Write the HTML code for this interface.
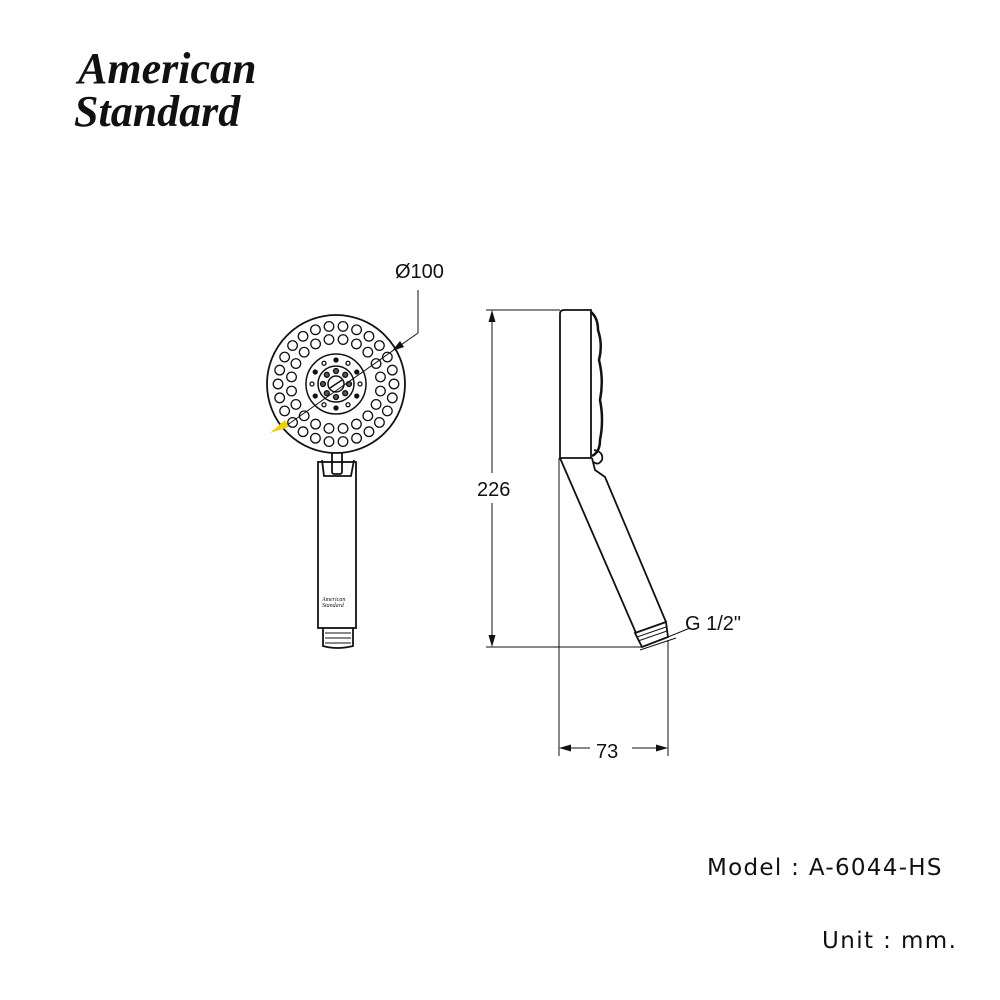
<!DOCTYPE html>
<html><head><meta charset="utf-8"><style>
html,body{margin:0;padding:0;background:#fff;}
svg{display:block}
text{font-family:"Liberation Sans",sans-serif;fill:#111}
</style></head><body>
<svg id="s" width="1000" height="1000" viewBox="0 0 1000 1000" xmlns="http://www.w3.org/2000/svg">
<text x="78" y="83" style="font-family:'Liberation Serif',serif;font-style:italic;font-weight:bold;font-size:44px;letter-spacing:0px">American</text>
<text x="74" y="126" style="font-family:'Liberation Serif',serif;font-style:italic;font-weight:bold;font-size:44px;letter-spacing:0px">Standard</text>

<g fill="none" stroke="#111" stroke-width="1.8">
<rect x="318" y="462" width="38" height="166"/>
<path d="M322 460 L324 476 L351 476 L354 460"/>
<rect x="332" y="452" width="10" height="22" rx="2"/>
<path d="M323 628 L323 646 Q337 650 353 646 L353 628"/>
<line x1="325" y1="633" x2="351" y2="633" stroke-width="1"/>
<line x1="325" y1="638" x2="351" y2="638" stroke-width="1"/>
<line x1="325" y1="643" x2="351" y2="643" stroke-width="1"/>
<circle cx="336" cy="384" r="69" fill="#fff"/>
<circle cx="336" cy="384" r="30" stroke-width="1.5"/>
<circle cx="336" cy="384" r="18" stroke-width="1.5"/>
<circle cx="336" cy="384" r="8" stroke-width="1.5"/>
<line x1="330" y1="388" x2="342" y2="380" stroke-width="1.5"/>
<g id="holes" stroke-width="1.3"></g>
<path d="M560 458 L560 314 Q560 310 564 310 L591 310 L591 458 Z"/>
<path d="M591 312 Q598 318 598 330 Q603 345 599 360 Q604 380 600 400 Q604 420 600 440 Q600 452 592 456" stroke-width="2.5"/>
<path d="M594 450 Q604 452 602 460 Q598 466 594 462"/>
<path d="M560 458 L636 633"/>
<path d="M592 458 L595 470 L605 477 L666 622"/>
<path d="M635 633 L666 622 L668 637 L642 647 Z"/>
<line x1="637" y1="637" x2="666" y2="627" stroke-width="1"/>
<line x1="638" y1="641" x2="667" y2="631" stroke-width="1"/>
</g>
<g stroke="#111" stroke-width="1" fill="none">
<line x1="486" y1="310" x2="560" y2="310"/>
<line x1="486" y1="647" x2="642" y2="647"/>
<line x1="492" y1="312" x2="492" y2="473"/>
<line x1="492" y1="503" x2="492" y2="645"/>
<line x1="559" y1="458" x2="559" y2="756"/>
<line x1="668" y1="640" x2="668" y2="756"/>
<line x1="561" y1="748" x2="590" y2="748"/>
<line x1="632" y1="748" x2="666" y2="748"/>
<line x1="418" y1="290" x2="418" y2="333"/>
<line x1="418" y1="333" x2="283" y2="428"/>
<line x1="640" y1="650" x2="676" y2="638"/>
<line x1="668" y1="637" x2="690" y2="628"/>
</g>
<g fill="#111">
<path d="M492 310 L488.5 322 L495.5 322 Z"/>
<path d="M492 647 L488.5 635 L495.5 635 Z"/>
<path d="M559 748 L571 744.5 L571 751.5 Z"/>
<path d="M668 748 L656 744.5 L656 751.5 Z"/>
<path d="M392 351 L400 341 L404 347 Z"/>
</g>
<path d="M270 433 L285 420 L289 427 Z" fill="#f0d000"/>
<text x="395" y="278" font-size="20">Ø100</text>
<text x="477" y="496" font-size="20">226</text>
<text x="596" y="758" font-size="20">73</text>
<text x="685" y="630" font-size="20">G 1/2"</text>
<text x="322" y="601" style="font-family:'Liberation Serif',serif;font-style:italic;font-size:6px">American</text>
<text x="322" y="607" style="font-family:'Liberation Serif',serif;font-style:italic;font-size:6px">Standard</text>
<text x="707" y="875" style="font-family:'DejaVu Sans',sans-serif;font-size:23px;letter-spacing:1.3px">Model : A-6044-HS</text>
<text x="822" y="948" style="font-family:'DejaVu Sans',sans-serif;font-size:23px;letter-spacing:1.4px">Unit : mm.</text>
</svg>
<script>
var g=document.getElementById('holes'),ns='http://www.w3.org/2000/svg';
function c(x,y,r,f){var e=document.createElementNS(ns,'circle');e.setAttribute('cx',x);e.setAttribute('cy',y);e.setAttribute('r',r);e.setAttribute('fill',f||'none');g.appendChild(e);}
var cx=336,cy=384;
for(var i=0;i<26;i++){var a=i/26*2*Math.PI;c(cx+58*Math.cos(a),cy+58*Math.sin(a),4.8);}
for(var i=0;i<20;i++){var a=(i+0.5)/20*2*Math.PI;c(cx+45*Math.cos(a),cy+45*Math.sin(a),4.8);}
for(var i=0;i<12;i++){var a=i/12*2*Math.PI;c(cx+24*Math.cos(a),cy+24*Math.sin(a),2,i%2?'#111':'none');}
for(var i=0;i<8;i++){var a=i/8*2*Math.PI;c(cx+13*Math.cos(a),cy+13*Math.sin(a),2.5,'#555');}
</script>
</body></html>
